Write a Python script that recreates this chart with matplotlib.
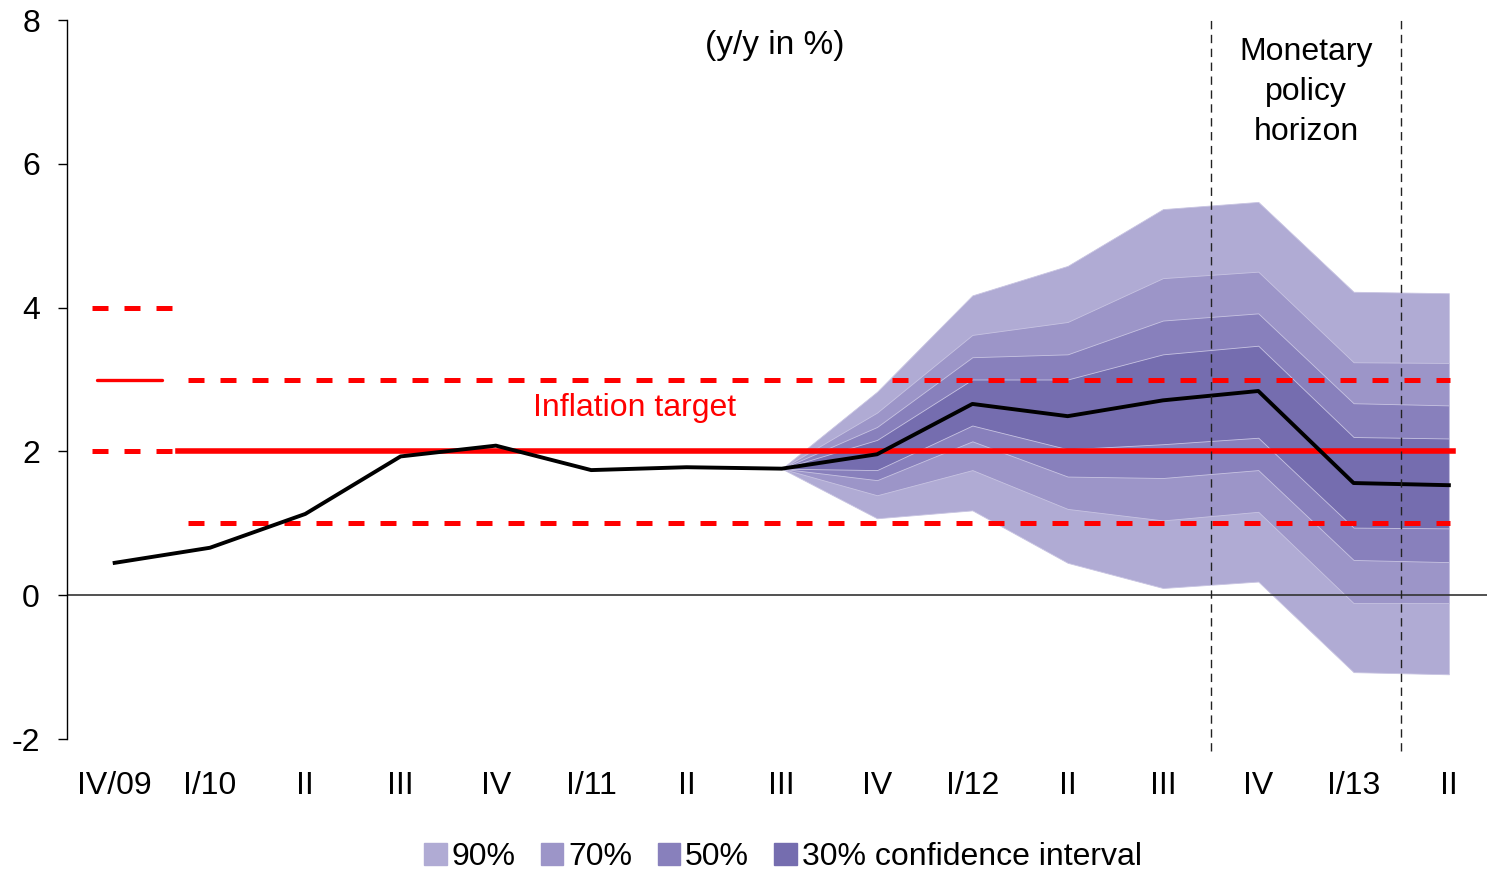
import matplotlib
matplotlib.use('Agg')
import matplotlib.pyplot as plt
from matplotlib.patches import Patch

plt.rcParams['font.family'] = ['Liberation Sans', 'DejaVu Sans']
plt.rcParams['axes.unicode_minus'] = False

# quarters on the x axis
quarters = ['IV/09', 'I/10', 'II', 'III', 'IV', 'I/11', 'II', 'III', 'IV', 'I/12',
            'II', 'III', 'IV', 'I/13', 'II']

# inflation forecast (y/y in %)
inflation = [0.45, 0.66, 1.13, 1.93, 2.08, 1.74, 1.78, 1.76, 1.96, 2.66, 2.49, 2.71, 2.84, 1.56, 1.53]

# fan chart starts at III/11 (index 7)
fan_start = 7
upper90 = [1.76, 2.83, 4.17, 4.58, 5.37, 5.47, 4.22, 4.20]
upper70 = [1.76, 2.54, 3.62, 3.80, 4.41, 4.50, 3.24, 3.23]
upper50 = [1.76, 2.34, 3.31, 3.35, 3.82, 3.92, 2.67, 2.64]
upper30 = [1.76, 2.16, 3.00, 3.00, 3.35, 3.47, 2.20, 2.18]
lower30 = [1.76, 1.74, 2.36, 2.03, 2.10, 2.19, 0.94, 0.93]
lower50 = [1.76, 1.60, 2.14, 1.65, 1.63, 1.74, 0.49, 0.46]
lower70 = [1.76, 1.39, 1.74, 1.20, 1.04, 1.16, -0.11, -0.11]
lower90 = [1.76, 1.07, 1.18, 0.45, 0.10, 0.19, -1.07, -1.10]

band_labels = ['90%', '70%', '50%', '30% confidence interval']
band_colors = ['#b0abd4', '#9c95c8', '#8880bc', '#756daf']

# inflation target: 3% +-1 until IV/09, 2% +-1 from I/10
old_target = 3
new_target = 2
tolerance = 1

fig = plt.figure(figsize=(14.87, 8.72), dpi=100)
ax = fig.add_axes([67 / 1487, 1 - 739 / 872, 1 - 67 / 1487, (739 - 20) / 872])

fx = list(range(fan_start, fan_start + len(upper90)))
bands = [(lower90, upper90), (lower70, upper70), (lower50, upper50), (lower30, upper30)]
for (lo, hi), col in zip(bands, band_colors):
    ax.fill_between(fx, lo, hi, color=col, lw=0.6, edgecolor='#c8c4e2', zorder=1)

ax.axhline(0, color='#333333', lw=1.2, zorder=2)

red = '#ff0000'
dash = (3.2, 3.2)
# old target band
ax.plot([-0.24, 0.6], [old_target + tolerance] * 2, color=red, lw=3.6, dashes=dash, zorder=3)
ax.plot([-0.24, 0.6], [old_target - tolerance] * 2, color=red, lw=3.6, dashes=dash, zorder=3)
ax.plot([-0.19, 0.5], [old_target] * 2, color=red, lw=2.4, solid_capstyle='round', zorder=3)
# new target band
ax.plot([0.77, 14.01], [new_target + tolerance] * 2, color=red, lw=3.6, dashes=dash, zorder=3)
ax.plot([0.77, 14.01], [new_target - tolerance] * 2, color=red, lw=3.6, dashes=dash, zorder=3)
ax.plot([0.66, 14.04], [new_target] * 2, color=red, lw=4.0, zorder=3)

ax.plot(range(len(inflation)), inflation, color='black', lw=2.8, zorder=4)

# monetary policy horizon
for xv in [11.5, 13.5]:
    ax.plot([xv, xv], [-2.16, 8], color='#222222', lw=1, dashes=(6, 4), clip_on=False, zorder=5)

fs = 23
ax.text(12.5, 7.0, 'Monetary\npolicy\nhorizon', ha='center', va='center', fontsize=fs,
        linespacing=1.43)
ax.text(6.93, 7.65, '(y/y in %)', ha='center', va='center', fontsize=24)
ax.text(5.46, 2.6, 'Inflation target', ha='center', va='center', fontsize=fs, color=red)

ax.set_xlim(-0.5, 14.4)
ax.set_ylim(-2, 8)
ax.set_yticks([-2, 0, 2, 4, 6, 8])
ax.set_xticks(range(len(quarters)))
ax.set_xticklabels(quarters)
ax.tick_params(axis='x', length=0, pad=23, labelsize=fs)
ax.tick_params(axis='y', length=6.5, width=1, pad=13, labelsize=fs, direction='out')
for s in ['top', 'right', 'bottom']:
    ax.spines[s].set_visible(False)
ax.spines['left'].set_linewidth(1)

handles = [Patch(color=c) for c in band_colors]
fig.legend(handles, band_labels, loc='center', bbox_to_anchor=(783 / 1487, 1 - 857 / 872),
           ncol=4, frameon=False, fontsize=fs, handlelength=0.7, handleheight=0.7,
           handletextpad=0.15, columnspacing=0.8, borderaxespad=0)

fig.savefig('out.png', dpi=100)
